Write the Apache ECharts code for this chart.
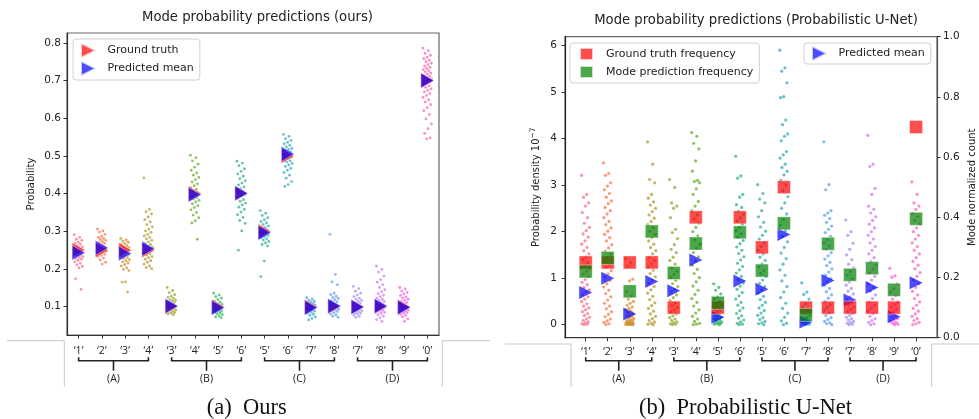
<!DOCTYPE html>
<html><head><meta charset="utf-8">
<script src="https://cdn.jsdelivr.net/npm/echarts@6.0.0/dist/echarts.min.js"></script>
<style>html,body{margin:0;padding:0;background:#fff}#c{width:979px;height:419px}</style>
</head><body><div id="c"></div>
<script>
// ---------- DATA ----------
const catLabels = ['‘1’','‘2’','‘3’','‘4’','‘3’','‘4’','‘5’','‘6’','‘5’','‘6’','‘7’','‘8’','‘7’','‘8’','‘9’','‘0’'];
const groupLabels = ['(A)','(B)','(C)','(D)'];
const groupStart = [0,4,8,12];
const groupEnd = [3,7,11,15];
const yTicksOurs = [0.1,0.2,0.3,0.4,0.5,0.6,0.7,0.8];
const yTicksDensity = [0,1,2,3,4,5,6];
const yTicksCount = [0,0.2,0.4,0.6,0.8,1.0];

// (a) Ours: ground truth and predicted mean probabilities
const oursGroundTruth = [0.25,0.25,0.25,0.25, 0.1,0.4,0.1,0.4, 0.3,0.5,0.1,0.1, 0.1,0.1,0.1,0.7];
const oursPredMean = [0.243,0.256,0.241,0.254, 0.102,0.397,0.097,0.401, 0.296,0.505,0.097,0.102, 0.099,0.102,0.098,0.700];
// (a) per-sample probabilities (strips)
const ours0 = [0.291,0.284,0.279,0.276,0.271,0.268,0.266,0.262,0.259,0.257,0.255,0.253,0.251,0.249,0.247,0.246,0.244,0.242,0.240,0.238,0.236,0.233,0.231,0.228,0.226,0.223,0.219,0.215,0.211,0.207,0.203,0.174,0.146];
const ours1 = [0.306,0.301,0.298,0.292,0.287,0.284,0.281,0.279,0.276,0.273,0.271,0.268,0.266,0.263,0.261,0.259,0.257,0.255,0.253,0.251,0.249,0.247,0.245,0.242,0.239,0.236,0.233,0.229,0.224,0.218,0.213];
const ours2 = [0.281,0.277,0.274,0.271,0.268,0.265,0.262,0.259,0.257,0.254,0.252,0.249,0.247,0.245,0.243,0.241,0.238,0.236,0.233,0.231,0.228,0.225,0.222,0.219,0.216,0.212,0.208,0.203,0.199,0.196,0.166,0.165,0.139];
const ours3 = [0.442,0.358,0.352,0.346,0.338,0.331,0.325,0.318,0.312,0.306,0.301,0.297,0.292,0.288,0.284,0.280,0.276,0.272,0.268,0.265,0.261,0.258,0.255,0.252,0.249,0.246,0.243,0.240,0.237,0.233,0.230,0.226,0.222,0.218,0.213,0.208,0.204,0.201];
const ours4 = [0.151,0.143,0.137,0.132,0.128,0.125,0.122,0.119,0.117,0.115,0.113,0.111,0.109,0.107,0.105,0.103,0.101,0.099,0.097,0.095,0.093,0.091,0.089,0.087,0.085,0.083,0.081,0.079];
const ours5 = [0.502,0.495,0.487,0.478,0.470,0.462,0.455,0.449,0.443,0.437,0.431,0.426,0.421,0.416,0.411,0.406,0.402,0.398,0.394,0.390,0.386,0.382,0.378,0.373,0.368,0.363,0.357,0.350,0.343,0.336,0.328,0.322,0.279];
const ours6 = [0.136,0.131,0.127,0.123,0.119,0.115,0.112,0.109,0.106,0.104,0.102,0.100,0.098,0.096,0.094,0.092,0.090,0.088,0.086,0.084,0.082,0.079,0.076,0.073,0.071];
const ours7 = [0.486,0.481,0.474,0.466,0.459,0.452,0.446,0.440,0.434,0.428,0.423,0.418,0.413,0.409,0.405,0.401,0.397,0.393,0.389,0.384,0.380,0.375,0.370,0.364,0.358,0.351,0.344,0.337,0.329,0.321,0.301,0.250];
const ours8 = [0.355,0.348,0.342,0.336,0.331,0.326,0.322,0.318,0.314,0.310,0.307,0.304,0.301,0.298,0.295,0.292,0.289,0.286,0.283,0.280,0.277,0.273,0.269,0.265,0.261,0.221,0.180];
const ours9 = [0.557,0.552,0.546,0.541,0.536,0.532,0.528,0.524,0.520,0.517,0.514,0.511,0.508,0.505,0.502,0.499,0.496,0.493,0.490,0.487,0.484,0.480,0.476,0.472,0.467,0.462,0.456,0.449,0.441,0.432,0.424,0.419];
const ours10 = [0.124,0.120,0.117,0.114,0.112,0.110,0.108,0.106,0.104,0.102,0.100,0.098,0.096,0.094,0.092,0.090,0.088,0.086,0.083,0.080,0.077,0.073,0.069,0.065];
const ours11 = [0.292,0.186,0.166,0.158,0.136,0.132,0.128,0.125,0.122,0.119,0.116,0.113,0.111,0.109,0.107,0.105,0.103,0.101,0.099,0.097,0.095,0.093,0.091,0.089,0.087,0.084,0.081,0.078,0.075,0.072];
const ours12 = [0.154,0.148,0.141,0.136,0.131,0.127,0.123,0.120,0.117,0.114,0.111,0.109,0.107,0.105,0.103,0.101,0.099,0.097,0.095,0.093,0.091,0.089,0.087,0.085,0.083,0.081,0.078,0.075,0.072];
const ours13 = [0.208,0.199,0.192,0.181,0.172,0.165,0.158,0.151,0.145,0.140,0.135,0.131,0.127,0.123,0.120,0.117,0.114,0.111,0.108,0.106,0.104,0.102,0.100,0.098,0.096,0.094,0.092,0.090,0.088,0.085,0.082,0.079,0.075,0.071,0.066,0.061];
const ours14 = [0.151,0.147,0.142,0.138,0.134,0.130,0.126,0.123,0.120,0.117,0.114,0.111,0.109,0.107,0.105,0.103,0.101,0.099,0.097,0.095,0.093,0.091,0.089,0.087,0.085,0.083,0.080,0.077,0.073,0.068,0.061];
const ours15 = [0.786,0.779,0.772,0.767,0.762,0.758,0.754,0.750,0.746,0.742,0.738,0.735,0.732,0.729,0.726,0.723,0.720,0.717,0.714,0.711,0.708,0.705,0.702,0.699,0.696,0.693,0.690,0.686,0.682,0.678,0.674,0.670,0.665,0.660,0.655,0.649,0.643,0.636,0.628,0.620,0.610,0.598,0.585,0.572,0.560,0.548,0.545];

// (b) Probabilistic U-Net
const unetGtFreq = [0.25,0.25,0.25,0.25, 0.1,0.4,0.1,0.4, 0.3,0.5,0.1,0.1, 0.1,0.1,0.1,0.7];
const unetModeFreq = [0.22,0.265,0.154,0.353, 0.215,0.313,0.116,0.35, 0.223,0.38,0.076,0.312, 0.209,0.231,0.159,0.395];
const unetPredMean = [0.69,1.0,0.23,0.93, 0.73,1.39,0.16,0.94, 0.76,1.94,0.06,0.95, 0.53,0.80,0.17,0.90];
const unet0 = [3.21,2.80,2.74,2.62,2.55,2.41,2.30,2.18,2.09,2.02,1.95,1.88,1.80,1.73,1.66,1.59,1.52,1.46,1.40,1.33,1.27,1.21,1.15,1.09,1.03,0.97,0.91,0.86,0.80,0.75,0.70,0.65,0.60,0.55,0.50,0.45,0.40,0.36,0.32,0.28,0.24,0.20,0.16,0.12,0.09,0.06,0.04,0.02,0.01,0.00];
const unet1 = [3.48,3.25,3.21,3.05,2.98,2.90,2.82,2.74,2.66,2.60,2.52,2.45,2.38,2.30,2.22,2.15,2.08,2.01,1.94,1.87,1.80,1.72,1.65,1.58,1.51,1.44,1.37,1.30,1.23,1.16,1.09,1.02,0.95,0.88,0.81,0.74,0.67,0.60,0.53,0.46,0.40,0.34,0.28,0.22,0.17,0.12,0.08,0.05,0.02,0.00];
const unet2 = [1.42,1.33,1.26,0.98,0.94,0.71,0.62,0.55,0.50,0.46,0.42,0.38,0.35,0.32,0.29,0.26,0.23,0.21,0.19,0.17,0.15,0.13,0.11,0.09,0.08,0.07,0.06,0.05,0.04,0.03,0.03,0.02,0.02,0.01,0.01,0.00,0.00,0.00];
const unet3 = [3.93,3.45,3.12,3.05,2.80,2.72,2.64,2.57,2.50,2.43,2.36,2.29,2.22,2.15,2.08,2.01,1.94,1.87,1.80,1.73,1.66,1.59,1.52,1.45,1.38,1.31,1.24,1.17,1.10,1.03,0.96,0.89,0.82,0.75,0.68,0.61,0.54,0.47,0.41,0.35,0.29,0.23,0.18,0.13,0.09,0.06,0.03,0.01,0.00];
const unet4 = [3.12,2.95,2.62,2.55,2.50,2.30,2.05,1.98,1.85,1.72,1.62,1.55,1.45,1.38,1.30,1.22,1.15,1.08,1.01,0.95,0.88,0.82,0.76,0.70,0.64,0.58,0.52,0.47,0.42,0.37,0.32,0.27,0.23,0.19,0.15,0.12,0.09,0.06,0.04,0.02,0.01,0.00];
const unet5 = [4.13,4.05,3.90,3.78,3.52,3.30,3.10,3.08,3.05,2.92,2.80,2.65,2.55,2.45,2.36,2.27,2.18,2.09,2.00,1.91,1.82,1.73,1.64,1.55,1.46,1.37,1.28,1.19,1.10,1.01,0.92,0.83,0.74,0.65,0.56,0.48,0.40,0.32,0.25,0.18,0.12,0.07,0.03,0.01,0.00];
const unet6 = [0.88,0.80,0.74,0.66,0.60,0.55,0.50,0.46,0.42,0.38,0.34,0.31,0.28,0.25,0.22,0.19,0.16,0.14,0.12,0.10,0.08,0.06,0.05,0.04,0.03,0.02,0.01,0.00];
const unet7 = [3.62,3.20,3.15,2.80,2.74,2.58,2.52,2.44,2.37,2.30,2.23,2.16,2.09,2.02,1.95,1.88,1.81,1.74,1.67,1.60,1.53,1.46,1.39,1.32,1.25,1.18,1.11,1.04,0.97,0.90,0.83,0.76,0.69,0.62,0.55,0.48,0.42,0.36,0.30,0.24,0.19,0.14,0.10,0.06,0.03,0.01,0.00];
const unet8 = [3.01,2.82,2.70,2.62,2.45,2.32,2.20,2.10,2.01,1.92,1.84,1.76,1.68,1.60,1.52,1.45,1.38,1.31,1.24,1.17,1.10,1.03,0.96,0.89,0.82,0.75,0.68,0.61,0.54,0.48,0.42,0.36,0.30,0.25,0.20,0.15,0.11,0.07,0.04,0.02,0.00];
const unet9 = [5.90,5.52,5.45,5.20,4.90,4.88,4.40,4.30,4.10,4.05,3.95,3.72,3.65,3.58,3.45,3.38,3.30,3.22,3.10,3.00,2.88,2.75,2.62,2.50,2.38,2.26,2.14,2.02,1.90,1.78,1.66,1.54,1.42,1.30,1.18,1.06,0.94,0.82,0.70,0.58,0.46,0.35,0.25,0.16,0.08,0.03,0.00];
const unet10 = [0.90,0.70,0.65,0.55,0.45,0.38,0.30,0.24,0.19,0.15,0.12,0.09,0.07,0.05,0.03,0.02,0.01,0.00];
const unet11 = [3.93,3.01,2.90,2.45,2.40,2.35,2.28,2.20,2.12,2.05,1.98,1.90,1.83,1.76,1.69,1.62,1.55,1.48,1.41,1.34,1.27,1.20,1.13,1.06,0.99,0.92,0.85,0.78,0.71,0.64,0.57,0.50,0.43,0.37,0.31,0.25,0.20,0.15,0.11,0.07,0.04,0.02,0.00];
const unet12 = [2.25,2.00,1.92,1.75,1.62,1.50,1.40,1.30,1.22,1.14,1.06,0.99,0.92,0.85,0.78,0.72,0.66,0.60,0.54,0.48,0.43,0.38,0.33,0.28,0.24,0.20,0.16,0.13,0.10,0.07,0.05,0.03,0.01,0.00];
const unet13 = [4.07,3.45,3.40,2.93,2.80,2.55,2.48,2.40,2.32,2.24,2.16,2.08,2.00,1.92,1.84,1.76,1.68,1.60,1.52,1.44,1.36,1.28,1.20,1.12,1.04,0.96,0.88,0.80,0.72,0.64,0.56,0.49,0.42,0.35,0.29,0.23,0.18,0.13,0.09,0.05,0.02,0.00];
const unet14 = [1.21,1.05,1.02,0.88,0.78,0.70,0.62,0.55,0.49,0.43,0.38,0.33,0.28,0.24,0.20,0.16,0.13,0.10,0.07,0.05,0.03,0.01,0.00];
const unet15 = [3.07,2.80,2.62,2.55,2.48,2.40,2.32,2.24,2.16,2.08,2.00,1.92,1.84,1.76,1.68,1.60,1.52,1.44,1.36,1.28,1.20,1.12,1.04,0.96,0.88,0.80,0.72,0.64,0.56,0.49,0.42,0.35,0.29,0.23,0.18,0.13,0.09,0.05,0.02,0.00];

// ---------- STYLE ----------
const palette = ['#f77189','#f57b4e','#ce9032','#b49a31','#97a431','#6aad32','#32b166','#34af8a','#36ada4','#37aabb','#39a7d0','#609ff4','#a48cf4','#cc7af4','#f561dd','#f56bb4'];
const oursStrips = [ours0,ours1,ours2,ours3,ours4,ours5,ours6,ours7,ours8,ours9,ours10,ours11,ours12,ours13,ours14,ours15];
const unetStrips = [unet0,unet1,unet2,unet3,unet4,unet5,unet6,unet7,unet8,unet9,unet10,unet11,unet12,unet13,unet14,unet15];
const FONT = 'DejaVu Sans';
const TRI_ICON = 'path://M0,0L13,6.5L0,13Z';
const jit = j => (((j * 0.6180339887) % 1) - 0.5) * 0.38;
const catIdx = catLabels.map((_, i) => i);

const chart = echarts.init(document.getElementById('c'), null, {renderer: 'canvas'});

function xAxisCfg(grid, min, max, margin) {
  return {
    type: 'value', gridIndex: grid, min: min, max: max,
    splitLine: {show: false},
    axisLine: {show: true, onZero: false, lineStyle: {color: '#333', width: 1.2}},
    axisTick: {show: true, customValues: catIdx, length: 3.5, lineStyle: {color: '#333'}},
    axisLabel: {customValues: catIdx, margin: margin, fontFamily: 'Open Sans', fontSize: 10.5, color: '#222',
      formatter: v => catLabels[Math.round(v)]}
  };
}

const series = [];
oursStrips.forEach((arr, i) => {
  series.push({type: 'scatter', xAxisIndex: 0, yAxisIndex: 0, name: 'ours_' + i, z: 2,
    symbol: 'circle', symbolSize: 2.8, silent: true,
    itemStyle: {color: palette[i], opacity: 0.75},
    data: arr.map((v, j) => [i + jit(j), v])});
});
series.push({type: 'scatter', name: 'Ground truth', xAxisIndex: 0, yAxisIndex: 0, z: 3,
  symbol: 'triangle', symbolRotate: -90, symbolSize: [15, 13],
  itemStyle: {color: '#ff0000', opacity: 0.7, borderColor: '#ffffff', borderWidth: 0.6},
  data: oursGroundTruth.map((v, i) => [i, v])});
series.push({type: 'scatter', name: 'Predicted mean', xAxisIndex: 0, yAxisIndex: 0, z: 4,
  symbol: 'triangle', symbolRotate: -90, symbolSize: [15, 13],
  itemStyle: {color: '#0000ff', opacity: 0.7, borderColor: '#ffffff', borderWidth: 0.6},
  data: oursPredMean.map((v, i) => [i, v])});

unetStrips.forEach((arr, i) => {
  series.push({type: 'scatter', xAxisIndex: 1, yAxisIndex: 1, name: 'unet_' + i, z: 2,
    symbol: 'circle', symbolSize: 3.2, silent: true,
    itemStyle: {color: palette[i], opacity: 0.75},
    data: arr.map((v, j) => [i + jit(j), v])});
});
series.push({type: 'scatter', name: 'Predicted mean', xAxisIndex: 1, yAxisIndex: 1, z: 3,
  symbol: 'triangle', symbolRotate: -90, symbolSize: [13, 13],
  itemStyle: {color: '#0000ff', opacity: 0.7},
  data: unetPredMean.map((v, i) => [i, v])});
series.push({type: 'scatter', name: 'Ground truth frequency', xAxisIndex: 1, yAxisIndex: 2, z: 4,
  symbol: 'rect', symbolSize: 13,
  itemStyle: {color: '#ff0000', opacity: 0.7, borderColor: '#ffffff', borderWidth: 0.6},
  data: unetGtFreq.map((v, i) => [i, v])});
series.push({type: 'scatter', name: 'Mode prediction frequency', xAxisIndex: 1, yAxisIndex: 2, z: 5,
  symbol: 'rect', symbolSize: 13,
  itemStyle: {color: '#008000', opacity: 0.7, borderColor: '#ffffff', borderWidth: 0.6},
  data: unetModeFreq.map((v, i) => [i, v])});

// bracket annotations under each x axis
function bracketSeries(xi, yi, yMin, off) {
  return {type: 'custom', xAxisIndex: xi, yAxisIndex: yi, silent: true, clip: false, z: 5,
    encode: {x: [0, 1]},
    data: groupStart.map((s, k) => [s, groupEnd[k]]),
    renderItem: (params, api) => {
      const x1 = api.coord([api.value(0), yMin])[0];
      const x2 = api.coord([api.value(1), yMin])[0];
      const yb = params.coordSys.y + params.coordSys.height + off;
      const xm = (x1 + x2) / 2;
      const ls = {stroke: '#222', lineWidth: 1.6, fill: null};
      return {type: 'group', children: [
        {type: 'polyline', shape: {points: [[x1, yb - 3.4], [x1, yb], [x2, yb], [x2, yb - 3.4]]}, style: ls},
        {type: 'line', shape: {x1: xm, y1: yb, x2: xm, y2: yb + 10}, style: ls},
        {type: 'text', x: xm, y: yb + 18.5, style: {text: groupLabels[params.dataIndex], fill: '#222',
          font: '10.5px "Open Sans"', align: 'center', verticalAlign: 'middle'}}
      ]};
    }};
}
series.push(bracketSeries(0, 0, 0.025, 25.7));
series.push(bracketSeries(1, 1, -0.28, 23));

const legendBase = {orient: 'vertical', itemWidth: 13, itemHeight: 12, itemGap: 4,
  backgroundColor: '#fff', borderColor: '#d0d0d0', borderWidth: 1, borderRadius: 3,
  padding: [4, 6, 4, 8], textStyle: {fontFamily: FONT, fontSize: 11, color: '#222', padding: [0, 0, 0, 8]},
  selectedMode: false};

const grayLine = {stroke: '#c8c8c8', lineWidth: 1, fill: null};
const yLine = c => ({show: true, onZero: false, lineStyle: {color: c, width: 1.2}});

chart.setOption({
  animation: false,
  backgroundColor: '#fff',
  title: [
    {text: 'Mode probability predictions (ours)', left: 252.5, top: 6, textAlign: 'center',
      textStyle: {fontFamily: FONT, fontSize: 13.2, fontWeight: 'normal', color: '#222'}},
    {text: 'Mode probability predictions (Probabilistic U-Net)', left: 751, top: 9, textAlign: 'center',
      textStyle: {fontFamily: FONT, fontSize: 13.2, fontWeight: 'normal', color: '#222'}}
  ],
  grid: [
    {left: 67, top: 33, width: 372, height: 302, show: true, borderColor: '#666', borderWidth: 1.2, backgroundColor: 'transparent'},
    {left: 565, top: 36.7, width: 372, height: 301, show: true, borderColor: '#666', borderWidth: 1.2, backgroundColor: 'transparent'}
  ],
  xAxis: [xAxisCfg(0, -0.5, 15.5, 10.5), xAxisCfg(1, -0.94, 15.95, 9)],
  yAxis: [
    {type: 'value', gridIndex: 0, min: 0.025, max: 0.826, splitLine: {show: false},
      name: 'Probability', nameLocation: 'middle', nameGap: 31, nameRotate: 90,
      nameTextStyle: {fontFamily: FONT, fontSize: 10, color: '#222'},
      axisLine: yLine('#333'),
      axisTick: {show: true, customValues: yTicksOurs, length: 3.5, lineStyle: {color: '#333'}},
      axisLabel: {customValues: yTicksOurs, margin: 6, fontFamily: FONT, fontSize: 10.5, color: '#222',
        formatter: v => v.toFixed(1)}},
    {type: 'value', gridIndex: 1, position: 'left', min: -0.28, max: 6.19, splitLine: {show: false},
      name: 'Probability density 10{sup|−7}', nameLocation: 'middle', nameGap: 22, nameRotate: 90,
      nameTextStyle: {fontFamily: FONT, fontSize: 10, color: '#222',
        rich: {sup: {fontFamily: FONT, fontSize: 7.5, color: '#222', verticalAlign: 'bottom', padding: [0, 0, 6, 0]}}},
      axisLine: yLine('#222'),
      axisTick: {show: true, customValues: yTicksDensity, length: 3.5, lineStyle: {color: '#333'}},
      axisLabel: {customValues: yTicksDensity, margin: 8, fontFamily: FONT, fontSize: 10.5, color: '#222',
        formatter: v => String(Math.round(v))}},
    {type: 'value', gridIndex: 1, position: 'right', min: 0, max: 1, splitLine: {show: false},
      name: 'Mode normalized count', nameLocation: 'middle', nameGap: 30, nameRotate: 90,
      nameTextStyle: {fontFamily: FONT, fontSize: 10, color: '#222'},
      axisLine: yLine('#555'),
      axisTick: {show: true, customValues: yTicksCount, length: 3.5, lineStyle: {color: '#333'}},
      axisLabel: {customValues: yTicksCount, margin: 6, fontFamily: FONT, fontSize: 10.5, color: '#222',
        formatter: v => v.toFixed(1)}}
  ],
  legend: [
    Object.assign({}, legendBase, {left: 73, top: 39, itemWidth: 16, itemHeight: 15, itemGap: 1, padding: [3, 6, 3, 7],
      textStyle: {fontFamily: FONT, fontSize: 11, color: '#222', padding: [0, 0, 0, 6]},
      data: [{name: 'Ground truth', icon: TRI_ICON}, {name: 'Predicted mean', icon: TRI_ICON}]}),
    Object.assign({}, legendBase, {left: 570, top: 43, padding: [4, 6, 4, 9],
      data: [{name: 'Ground truth frequency', icon: 'rect'}, {name: 'Mode prediction frequency', icon: 'rect'}]}),
    Object.assign({}, legendBase, {left: 804, top: 43, padding: [2, 6, 2, 7], itemWidth: 16, itemHeight: 15,
      textStyle: {fontFamily: FONT, fontSize: 11, color: '#222', padding: [0, 0, 0, 6]},
      data: [{name: 'Predicted mean', icon: TRI_ICON}]})
  ],
  graphic: [
    {type: 'polyline', shape: {points: [[7, 340.7], [64.3, 340.7], [64.3, 386.7]]}, style: grayLine, silent: true},
    {type: 'polyline', shape: {points: [[442.3, 386.7], [442.3, 340.7], [490, 340.7]]}, style: grayLine, silent: true},
    {type: 'polyline', shape: {points: [[505, 344], [571, 344], [571, 387]]}, style: grayLine, silent: true},
    {type: 'polyline', shape: {points: [[931.7, 387], [931.7, 344], [979, 344]]}, style: grayLine, silent: true},
    {type: 'text', x: 246.7, y: 408, style: {text: '(a)  Ours', font: '22.5px "Liberation Serif"', fill: '#111', align: 'center', verticalAlign: 'middle'}},
    {type: 'text', x: 745.5, y: 408, style: {text: '(b)  Probabilistic U-Net', font: '22.5px "Liberation Serif"', fill: '#111', align: 'center', verticalAlign: 'middle'}}
  ],
  series: series
});
</script></body></html>
